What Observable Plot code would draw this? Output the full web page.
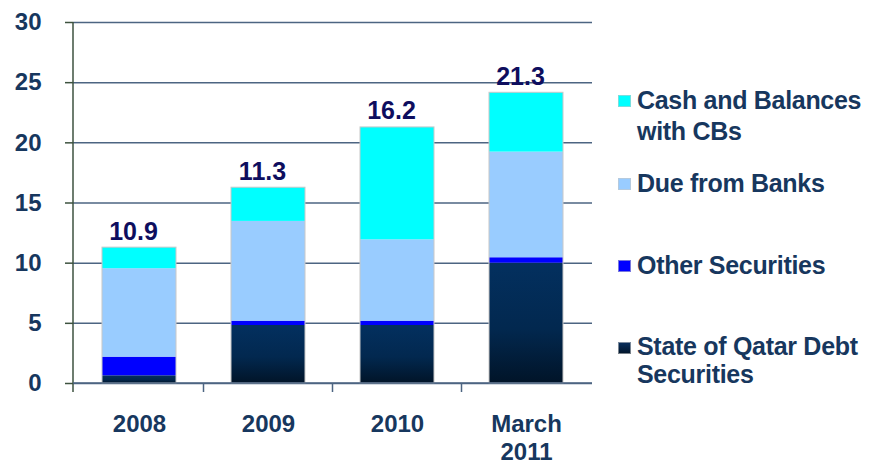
<!DOCTYPE html>
<html>
<head>
<meta charset="utf-8">
<script src="https://cdn.jsdelivr.net/npm/d3@7"></script>
<script src="https://cdn.jsdelivr.net/npm/@observablehq/plot@0.6"></script>
<style>
  html, body { margin: 0; padding: 0; background: #fff; }
  #wrap { position: relative; width: 870px; height: 465px; font-family: "Liberation Sans", Arial, sans-serif; }
  #legend { position: absolute; left: 0; top: 0; width: 870px; height: 465px; pointer-events: none; }
  .lg-sw { position: absolute; width: 13px; height: 12px; }
  .lg-tx { position: absolute; font-weight: bold; font-size: 25px; color: #17375e; white-space: pre; letter-spacing: -0.3px; }
</style>
</head>
<body>
<div id="wrap"><div id="chart"></div><div id="legend"></div></div>
<script>
// ---- data ----
const categories = ["2008", "2009", "2010", "March\n2011"];
const seriesNames = ["State of Qatar Debt Securities", "Other Securities", "Due from Banks", "Cash and Balances with CBs"];
const stateQatarDebt = [0.64, 4.82, 4.82, 10.0];
const otherSecurities = [1.55, 0.36, 0.36, 0.45];
const dueFromBanks = [7.35, 8.29, 6.76, 8.78];
const cashBalancesCBs = [1.75, 2.80, 9.34, 4.93];
const totalLabels = ["10.9", "11.3", "16.2", "21.3"];
const yTicks = [0, 5, 10, 15, 20, 25, 30];
const seriesColors = ["url(#qdark)", "#0000ff", "#99ccff", "#00ffff"];
const legendOrder = ["Cash and Balances with CBs", "Due from Banks", "Other Securities", "State of Qatar Debt Securities"];
const legendLabels = ["Cash and Balances\nwith CBs", "Due from Banks", "Other Securities", "State of Qatar Debt\nSecurities"];

// ---- build table ----
const seriesValues = [stateQatarDebt, otherSecurities, dueFromBanks, cashBalancesCBs];
const rows = [];
seriesNames.forEach((s, si) => categories.forEach((c, ci) => rows.push({cat: c, series: s, value: seriesValues[si][ci]})));
const labelRows = categories.map((c, ci) => ({cat: c, total: d3.sum(seriesValues, v => v[ci]), label: totalLabels[ci]}));

const defsMark = () => {
  const g = d3.create("svg:g");
  const lg = g.append("defs").append("linearGradient").attr("id", "qdark").attr("x1", 0).attr("y1", 0).attr("x2", 0).attr("y2", 1);
  lg.append("stop").attr("offset", "0%").attr("stop-color", "#03305f");
  lg.append("stop").attr("offset", "55%").attr("stop-color", "#02284f");
  lg.append("stop").attr("offset", "100%").attr("stop-color", "#011428");
  return g.node();
};

// left axis line and x boundary ticks, derived from scales
const axisDecor = (index, scales, values, dimensions) => {
  const {width, height, marginLeft, marginRight, marginBottom, marginTop} = dimensions;
  const x = scales.x;
  const bw = x.bandwidth(), step = x.step();
  const y0 = height - marginBottom;
  const g = d3.create("svg:g");
  g.append("line").attr("x1", marginLeft).attr("x2", marginLeft).attr("y1", marginTop).attr("y2", y0 + 9)
    .attr("stroke", "#3d523f").attr("stroke-width", 1.5);
  g.append("line").attr("x1", marginLeft).attr("x2", width - marginRight).attr("y1", y0).attr("y2", y0)
    .attr("stroke", "#4d6582").attr("stroke-width", 1.5);
  categories.slice(0, -1).forEach(c => {
    const bx = x(c) + (bw + step) / 2;
    g.append("line").attr("x1", bx).attr("x2", bx).attr("y1", y0).attr("y2", y0 + 9)
      .attr("stroke", "#4d6582").attr("stroke-width", 1.5);
  });
  return g.node();
};

const chart = Plot.plot({
  width: 870,
  height: 465,
  marginTop: 22,
  marginBottom: 82,
  marginLeft: 73,
  marginRight: 278,
  style: {fontFamily: "'Liberation Sans', Arial, sans-serif", fontWeight: "bold", color: "#17375e", background: "transparent"},
  x: {domain: categories, paddingInner: 0.43, paddingOuter: 0.215, label: null},
  y: {domain: [0, 30], label: null},
  color: {type: "ordinal", domain: seriesNames, range: seriesColors},
  marks: [
    defsMark,
    Plot.gridY(yTicks, {stroke: "#4d6582", strokeOpacity: 1, strokeWidth: 1.5}),
    Plot.barY(rows, {x: "cat", y: "value", fill: "series", order: seriesNames, inset: 0}),
    Plot.barY(rows, Plot.groupX({y: "sum"}, {x: "cat", y: "value", fill: "none", stroke: "#c8c8c8", strokeWidth: 1})),
    Plot.text(labelRows, {x: "cat", y: "total", text: "label", dy: -8, dx: -6, lineAnchor: "bottom",
      fontSize: 25, fontWeight: "bold", fill: "#0e0e5e"}),
    axisDecor,
    Plot.axisY(yTicks, {tickSize: 8, tickPadding: 24, fontSize: 24, stroke: "#3d523f", strokeWidth: 1.5, fill: "#17375e"}),
    Plot.axisX({tickSize: 0, tickPadding: 29, fontSize: 24, lineHeight: 1.15, fill: "#17375e"})
  ]
});
document.getElementById("chart").appendChild(chart);

// ---- legend (HTML, to the right of the plot area) ----
const legendTops = [85, 168, 250, 332];
const legend = document.getElementById("legend");
legendOrder.forEach((name, i) => {
  const si = seriesNames.indexOf(name);
  const sw = document.createElement("div");
  sw.className = "lg-sw";
  sw.style.left = "618px";
  sw.style.top = (legendTops[i] + 10) + "px";
  sw.style.background = si === 0 ? "linear-gradient(#0a3060, #011428)" : seriesColors[si];
  sw.style.boxShadow = "inset 0 0 0 1px rgba(200,200,200,0.6)";
  legend.appendChild(sw);
  const tx = document.createElement("div");
  tx.className = "lg-tx";
  tx.style.left = "637px";
  tx.style.top = legendTops[i] + "px";
  tx.style.lineHeight = (i === 3 ? 28 : 31) + "px";
  tx.textContent = legendLabels[i];
  legend.appendChild(tx);
});
</script>
</body>
</html>
